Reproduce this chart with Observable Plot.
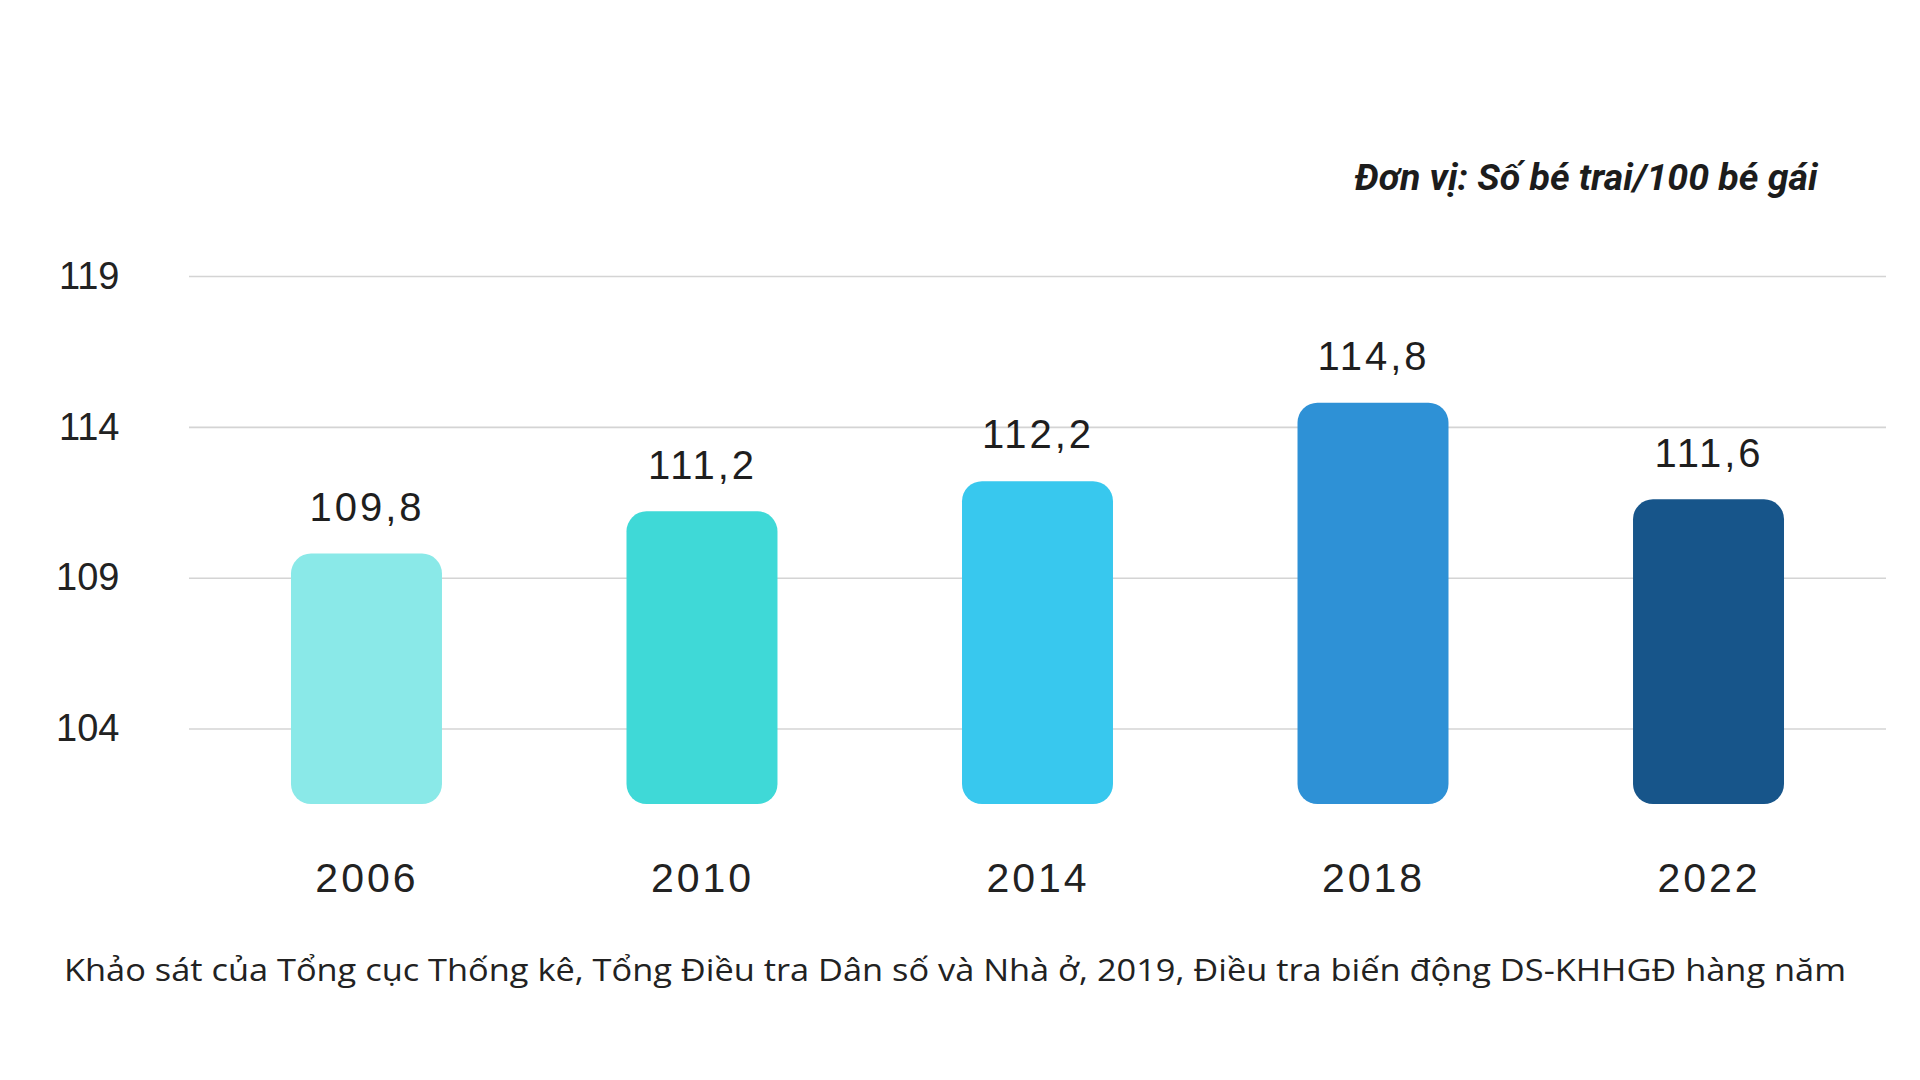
<!DOCTYPE html>
<html>
<head>
<meta charset="utf-8">
<script src="https://cdn.jsdelivr.net/npm/d3@7"></script>
<script src="https://cdn.jsdelivr.net/npm/@observablehq/plot@0.6"></script>
<style>
  html, body { margin: 0; padding: 0; background: #fff; }
  #wrap { position: relative; width: 1920px; height: 1080px; background: #fff; overflow: hidden; }
  #unit {
    position: absolute; right: 102px; top: 159px;
    font-family: Roboto, "Liberation Sans", sans-serif;
    font-weight: bold; font-style: italic; font-size: 37px; line-height: 37px;
    color: #1c1c1c; white-space: nowrap; transform-origin: right center;
  }
  #chart { position: absolute; left: 0; top: 210px; }
  #caption {
    position: absolute; left: 64px; top: 954px;
    font-family: "Open Sans", "Lato", sans-serif; font-size: 31px; line-height: 31px;
    color: #222; white-space: nowrap; transform-origin: left center;
  }
  svg g[aria-label="x-axis tick label"] text,
  svg g[aria-label="text"] text { letter-spacing: 3px; }
</style>
</head>
<body>
<div id="wrap">
  <div id="unit"></div>
  <div id="chart"></div>
  <div id="caption"></div>
</div>
<script>
const years = ["2006", "2010", "2014", "2018", "2022"];
const ratios = [109.8, 111.2, 112.2, 114.8, 111.6];
const valueLabels = ["109,8", "111,2", "112,2", "114,8", "111,6"];
const barColors = ["#8AE9E8", "#3FD9D7", "#38C8EE", "#2E91D6", "#17558A"];
const yTicks = [104, 109, 114, 119];
const yBase = 101.5;
const unitText = "Đơn vị: Số bé trai/100 bé gái";
const captionText = "Khảo sát của Tổng cục Thống kê, Tổng Điều tra Dân số và Nhà ở, 2019, Điều tra biến động DS-KHHGĐ hàng năm";

const data = years.map((year, i) => ({year, ratio: ratios[i], label: valueLabels[i]}));

const unitEl = document.getElementById("unit");
const capEl = document.getElementById("caption");
unitEl.textContent = unitText;
capEl.textContent = captionText;

function fit(el, target) {
  const w = el.getBoundingClientRect().width;
  if (w > 0) el.style.transform = `scaleX(${target / w})`;
}
fit(unitEl, 463);
fit(capEl, 1782);

const chart = Plot.plot({
  width: 1920,
  height: 700,
  marginTop: 66,
  marginBottom: 106,
  marginLeft: 189,
  marginRight: 34,
  style: {fontFamily: "'Liberation Sans', Arial, sans-serif", color: "#222", background: "transparent", overflow: "visible"},
  x: {domain: years, paddingInner: 0.55, paddingOuter: 0.304, round: false, label: null},
  y: {domain: [yBase, 119], label: null},
  color: {domain: years, range: barColors},
  marks: [
    Plot.gridY(yTicks, {stroke: "#d4d4d4", strokeOpacity: 1, strokeWidth: 1.6}),
    Plot.axisY(yTicks, {tickSize: 0, tickPadding: 70, fontSize: 38, label: null}),
    Plot.axisX({tickSize: 0, tickPadding: 58, fontSize: 41, label: null}),
    Plot.barY(data, {x: "year", y1: yBase, y2: "ratio", fill: "year", rx: 20}),
    Plot.text(data, {x: "year", y: "ratio", text: "label", dy: -46, fontSize: 40, fill: "#1e1e1e"})
  ]
});
document.getElementById("chart").appendChild(chart);
</script>
</body>
</html>
